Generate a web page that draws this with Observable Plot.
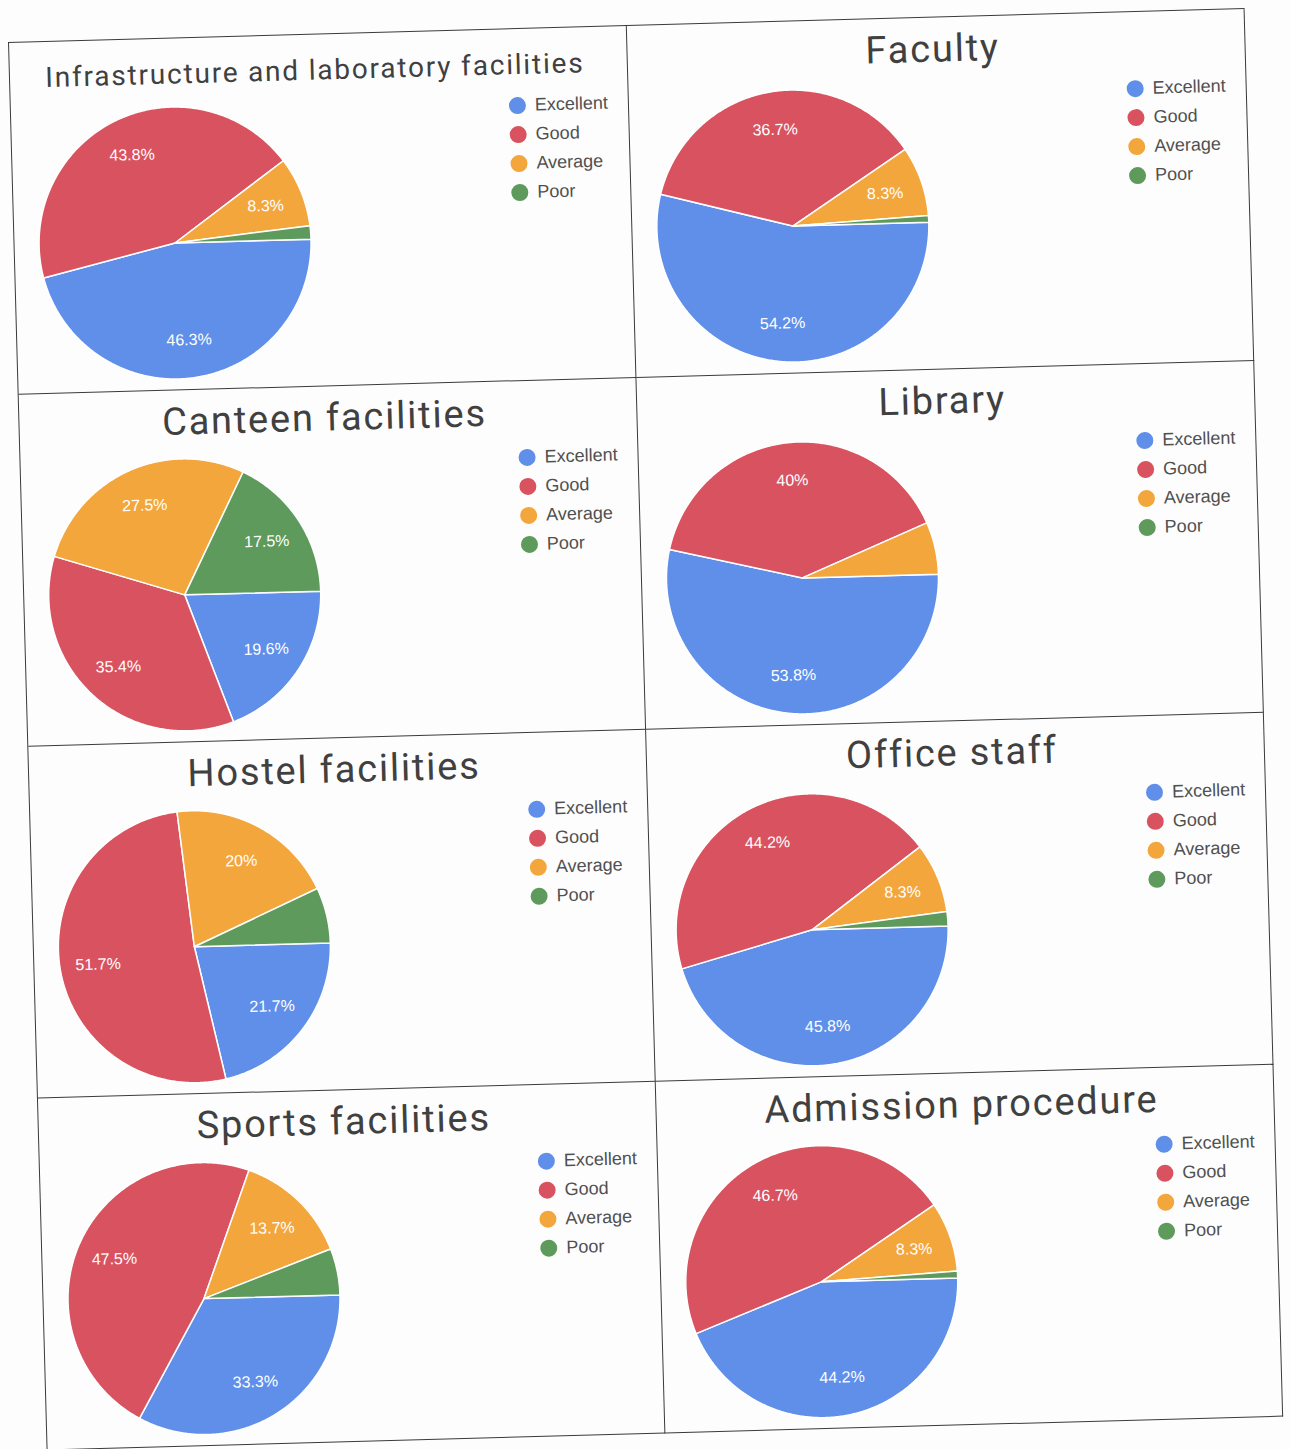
<!DOCTYPE html>
<html>
<head>
<meta charset="utf-8">
<script src="https://cdn.jsdelivr.net/npm/d3@7"></script>
<script src="https://cdn.jsdelivr.net/npm/@observablehq/plot@0.6"></script>
<style>
  body { margin: 0; background: #fdfdfd; width: 1290px; height: 1449px; overflow: hidden; position: relative; font-family: "Liberation Sans", Arial, sans-serif; }
  #grid { position: absolute; left: 8px; top: 42px; transform: rotate(-1.57deg); transform-origin: 0 0;
          display: grid; grid-template-columns: 618px 618px; grid-template-rows: repeat(4, 352px);
          border-top: 1.5px solid #3a3a3a; border-left: 1.5px solid #3a3a3a; }
  .cell { position: relative; border-right: 1.5px solid #3a3a3a; border-bottom: 1.5px solid #3a3a3a; box-sizing: border-box; overflow: visible; }
  .title { position: absolute; left: 0; width: 610px; text-align: center; font-family: Roboto, "Open Sans", sans-serif; color: #404040; line-height: 1; white-space: nowrap; }
  .pie { position: absolute; left: 24px; top: 68px; }
  .legend { position: absolute; left: 498px; top: 62px; }
  .row { display: flex; align-items: center; height: 29px; font-size: 18px; color: #505050; }
  .dot { width: 17px; height: 17px; border-radius: 50%; margin-right: 9px; }
</style>
</head>
<body>
<div id="grid"></div>
<script>
const titles = ["Infrastructure and laboratory facilities", "Faculty", "Canteen facilities", "Library",
                "Hostel facilities", "Office staff", "Sports facilities", "Admission procedure"];
const categories = ["Excellent", "Good", "Average", "Poor"];
const excellent = [46.3, 54.2, 19.6, 53.8, 21.7, 45.8, 33.3, 44.2];
const good      = [43.8, 36.7, 35.4, 40.0, 51.7, 44.2, 47.5, 46.7];
const average   = [8.3,  8.3,  27.5, 6.2,  20.0, 8.3,  13.7, 8.3];
const poor      = [1.6,  0.8,  17.5, 0,    6.6,  1.7,  5.5,  0.8];
const colors = ["#5f8fe9", "#d9525f", "#f3a63c", "#5d9a5c"];

const grid = d3.select("#grid");
const R = 136;

titles.forEach((title, i) => {
  const values = [excellent[i], good[i], average[i], poor[i]];
  const cell = grid.append("div").attr("class", "cell");
  const big = title.length < 25;
  cell.append("div").attr("class", "title")
    .style("font-size", big ? "38px" : "28px")
    .style("letter-spacing", big ? "1.8px" : "1.8px")
    .style("top", big ? "12px" : "22px")
    .text(title);

  const arcs = d3.pie().sort(null).startAngle(Math.PI / 2).endAngle(Math.PI / 2 + 2 * Math.PI)(values);
  const wedges = [];
  const labels = [];
  arcs.forEach((a, k) => {
    if (a.value <= 0) return;
    const cat = categories[k];
    wedges.push({cat, x: 0, y: 0});
    const n = Math.max(2, Math.ceil((a.endAngle - a.startAngle) / 0.01));
    for (let j = 0; j <= n; j++) {
      const t = a.startAngle + (a.endAngle - a.startAngle) * j / n;
      wedges.push({cat, x: Math.sin(t), y: Math.cos(t)});
    }
    if (a.value >= 8) {
      const m = (a.startAngle + a.endAngle) / 2;
      labels.push({x: 0.72 * Math.sin(m), y: 0.72 * Math.cos(m), t: `${a.value}%`});
    }
  });

  const chart = Plot.plot({
    width: 2 * R, height: 2 * R, margin: 0,
    style: {background: "transparent", overflow: "visible", fontFamily: "'Liberation Sans', Arial, sans-serif"},
    x: {domain: [-1, 1], axis: null},
    y: {domain: [-1, 1], axis: null},
    color: {domain: categories, range: colors},
    marks: [
      Plot.line(wedges, {x: "x", y: "y", z: "cat", fill: "cat", stroke: "white", strokeWidth: 1.5, curve: "linear-closed"}),
      Plot.text(labels, {x: "x", y: "y", text: "t", fill: "white", fontSize: 16})
    ]
  });
  cell.append("div").attr("class", "pie").node().appendChild(chart);

  const legend = cell.append("div").attr("class", "legend");
  categories.forEach((c, k) => {
    const row = legend.append("div").attr("class", "row");
    row.append("div").attr("class", "dot").style("background", colors[k]);
    row.append("span").text(c);
  });
});
</script>
</body>
</html>
